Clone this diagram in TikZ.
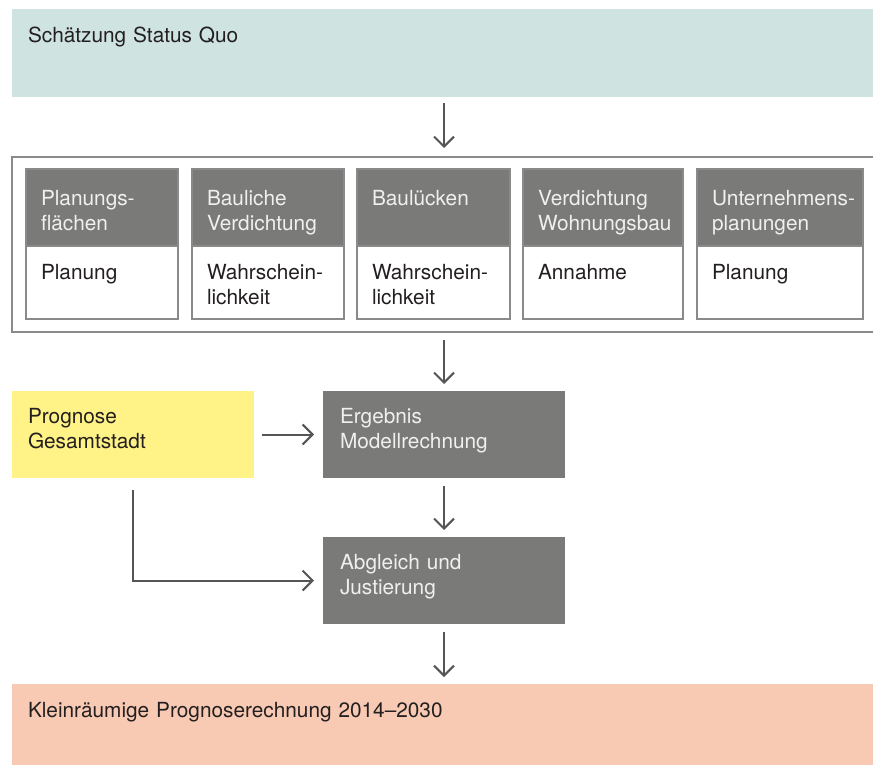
\documentclass[tikz,border=0pt]{standalone}
\usepackage{fontspec}
\setmainfont{TeX Gyre Heros}
\usetikzlibrary{positioning,arrows.meta}
\definecolor{statusblue}{HTML}{CFE3E1}
\definecolor{boxgray}{HTML}{7A7A78}
\definecolor{prognoseyellow}{HTML}{FFF286}
\definecolor{resultsalmon}{HTML}{F8CAB3}
\definecolor{linegray}{HTML}{8A8A8A}
\definecolor{arrowgray}{HTML}{555555}
\definecolor{darktext}{HTML}{231F20}

\begin{document}
\begin{tikzpicture}[x=1pt,y=-1pt,every node/.style={outer sep=0pt},
 box/.style={anchor=north west,inner xsep=16pt,inner ysep=0pt,align=left,
  font=\fontsize{20.8}{25}\selectfont,text height=34pt,
  execute at begin node={\hyphenpenalty=10000 \exhyphenpenalty=10000 }},
 lightbox/.style={box,text=darktext},
 darkbox/.style={box,fill=boxgray,text=white!94!black},
 cardhead/.style={darkbox,draw=linegray,line width=1.2pt,inner xsep=15pt,
  text height=36pt,text depth=41pt},
 cardbody/.style={lightbox,fill=white,draw=linegray,line width=1.2pt,inner xsep=15pt,
  text height=33pt,text depth=40pt},
 frame/.style={draw=linegray,line width=2pt,anchor=north west,inner sep=0pt},
 flow/.style={draw=arrowgray,line width=2pt,-{Straight Barb[length=10pt,width=20pt]}}]

  \useasboundingbox (0,0) rectangle (873,765);

  \node[lightbox,fill=statusblue,text width=830pt,text depth=54pt] (status) at (12,9)
   {Schätzung Status Quo};
  \node[frame,minimum width=870pt,minimum height=175pt] (cards) at (12,157) {};

  \foreach \n/\x/\w/\head/\body in {1/26/152/{Planungs-\\flächen}/Planung,
   2/192/152/{Bauliche\\Verdichtung}/{Wahrschein-\\lichkeit},
   3/357/153/Baulücken/{Wahrschein-\\lichkeit},
   4/523/160/{Verdichtung\\Wohnungsbau}/Annahme,
   5/697/166/{Unternehmens-\\planungen}/Planung}
  {\pgfmathsetmacro\tw{\w-30}
   \node[cardhead,text width=\tw pt] (head\n) at (\x,169) {\head};
   \node[cardbody,text width=\tw pt,below=0pt of head\n] (body\n) {\body};
  }

  \node[lightbox,fill=prognoseyellow,text width=210pt,text height=32pt,text depth=55pt]
   (prog) at (12,391) {Prognose\\Gesamtstadt};
  \node[darkbox,text width=208pt,inner xsep=17pt,text height=32pt,text depth=55pt,
   right=69pt of prog] (erg) {Ergebnis\\Modellrechnung};
  \node[darkbox,text width=208pt,inner xsep=17pt,text height=32pt,text depth=55pt,
   below=59pt of erg] (abgl) {Abgleich und\\Justierung};
  \node[lightbox,fill=resultsalmon,text width=830pt,text height=33pt,text depth=50pt]
   (final) at (12,684) {Kleinräumige Prognoserechnung 2014–2030};

  \draw[flow,shorten <=6pt,shorten >=9pt] (status.south -| erg) -- (cards.north -| erg);
  \draw[flow,shorten <=8pt,shorten >=7pt] (cards.south -| erg) -- (erg.north);
  \draw[flow,shorten <=8pt,shorten >=9pt] (prog) -- (erg);
  \draw[flow,shorten <=8pt,shorten >=7pt] (erg) -- (abgl);
  \draw[flow,shorten <=12pt,shorten >=9pt] (prog.south) |- (abgl.west);
  \draw[flow,shorten <=8pt,shorten >=7pt] (abgl) -- (final.north -| abgl);
\end{tikzpicture}
\end{document}
